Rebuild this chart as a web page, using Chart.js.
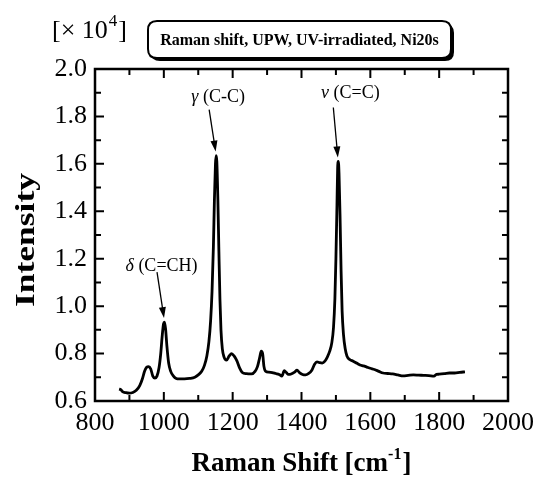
<!DOCTYPE html>
<html>
<head>
<meta charset="utf-8">
<script src="https://cdn.jsdelivr.net/npm/chart.js@4.4.1/dist/chart.umd.min.js"></script>
<style>
html,body{margin:0;padding:0;background:#fff;}
#wrap{width:537px;height:479px;position:relative;}
</style>
</head>
<body>
<div id="wrap"><canvas id="c" width="537" height="479"></canvas></div>
<script>
// ---- data ----
const ramanShift = [870,875,880,890,900,910,920,930,938,944,950,956,962,968,974,980,986,991,995,999,1002,1005,1009,1014,1020,1028,1036,1045,1060,1075,1090,1100,1110,1118,1125,1131,1136,1140,1144,1147,1150,1152,1154,1157,1160,1163,1166,1170,1175,1182,1190,1197,1204,1212,1220,1228,1240,1255,1265,1272,1278,1283,1287,1291,1296,1305,1315,1325,1335,1343,1350,1356,1362,1370,1380,1387,1394,1403,1412,1420,1430,1438,1445,1452,1460,1468,1475,1482,1488,1493,1497,1500,1503,1505,1507,1509,1512,1515,1518,1522,1527,1532,1540,1550,1560,1570,1580,1590,1600,1612,1625,1637,1650,1665,1680,1695,1710,1725,1740,1755,1770,1785,1792,1800,1815,1830,1845,1860,1875];
const intensity = [0.650,0.648,0.640,0.635,0.633,0.636,0.645,0.665,0.695,0.725,0.742,0.745,0.735,0.705,0.697,0.705,0.740,0.800,0.870,0.925,0.933,0.905,0.830,0.760,0.725,0.705,0.695,0.693,0.693,0.695,0.700,0.710,0.725,0.750,0.790,0.850,0.940,1.060,1.250,1.450,1.600,1.635,1.610,1.450,1.230,1.030,0.900,0.820,0.785,0.772,0.790,0.800,0.790,0.770,0.740,0.720,0.715,0.714,0.725,0.745,0.780,0.810,0.800,0.745,0.725,0.722,0.720,0.716,0.712,0.705,0.728,0.720,0.712,0.714,0.722,0.730,0.720,0.712,0.710,0.715,0.730,0.755,0.765,0.762,0.760,0.768,0.785,0.810,0.845,0.910,1.030,1.200,1.420,1.580,1.610,1.560,1.380,1.150,0.980,0.880,0.820,0.790,0.775,0.768,0.760,0.752,0.748,0.743,0.738,0.733,0.725,0.718,0.716,0.714,0.710,0.706,0.708,0.710,0.709,0.708,0.707,0.705,0.712,0.713,0.715,0.718,0.718,0.721,0.723];
const xTickValues = [800,1000,1200,1400,1600,1800,2000];
const xMinorValues = [900,1100,1300,1500,1700,1900];
const yTickValues = [0.6,0.8,1.0,1.2,1.4,1.6,1.8,2.0];
const yMinorValues = [0.7,0.9,1.1,1.3,1.5,1.7,1.9];
const chartTitle = "Raman shift, UPW, UV-irradiated, Ni20s";
const xAxisTitle = "Raman Shift [cm";
const xAxisTitleSup = "-1";
const yAxisTitle = "Intensity";
const scaleNote = "[\u00D7 10";
const scaleNoteSup = "4";
const peakLabels = [
  {greek:"\u03B3", text:" (C-C)", peakX:1152},
  {greek:"\u03BD", text:" (C=C)", peakX:1507},
  {greek:"\u03B4", text:" (C=CH)", peakX:1002}
];

const SERIF = '"Liberation Serif","Times New Roman",serif';
// label placement offsets (px) relative to each peak
const labelOffsets = [
  {tx:2, ty:-58, ax:-7, ay:-46},
  {tx:12, ty:-68, ax:-5, ay:-54},
  {tx:-3, ty:-56, ax:-7.5, ay:-50}
];

function roundRect(ctx,x,y,w,h,r){
  ctx.beginPath();
  ctx.moveTo(x+r,y);
  ctx.lineTo(x+w-r,y);ctx.quadraticCurveTo(x+w,y,x+w,y+r);
  ctx.lineTo(x+w,y+h-r);ctx.quadraticCurveTo(x+w,y+h,x+w-r,y+h);
  ctx.lineTo(x+r,y+h);ctx.quadraticCurveTo(x,y+h,x,y+h-r);
  ctx.lineTo(x,y+r);ctx.quadraticCurveTo(x,y,x+r,y);
  ctx.closePath();
}

const decor = {
  id:'decor',
  afterDraw(chart){
    const ctx = chart.ctx;
    const xs = chart.scales.x, ys = chart.scales.y;
    const a = chart.chartArea;
    ctx.save();
    // frame
    ctx.strokeStyle = '#000';
    ctx.lineWidth = 2.5;
    ctx.strokeRect(a.left, a.top, a.right-a.left, a.bottom-a.top);
    // ticks (inward on all sides)
    ctx.lineWidth = 2;
    ctx.beginPath();
    const majL = 9, minL = 6;
    xTickValues.forEach(v=>{const p=xs.getPixelForValue(v);
      ctx.moveTo(p,a.bottom);ctx.lineTo(p,a.bottom-majL);
      ctx.moveTo(p,a.top);ctx.lineTo(p,a.top+majL);});
    xMinorValues.forEach(v=>{const p=xs.getPixelForValue(v);
      ctx.moveTo(p,a.bottom);ctx.lineTo(p,a.bottom-minL);
      ctx.moveTo(p,a.top);ctx.lineTo(p,a.top+minL);});
    yTickValues.forEach(v=>{const p=ys.getPixelForValue(v);
      ctx.moveTo(a.left,p);ctx.lineTo(a.left+majL,p);
      ctx.moveTo(a.right,p);ctx.lineTo(a.right-majL,p);});
    yMinorValues.forEach(v=>{const p=ys.getPixelForValue(v);
      ctx.moveTo(a.left,p);ctx.lineTo(a.left+minL,p);
      ctx.moveTo(a.right,p);ctx.lineTo(a.right-minL,p);});
    ctx.stroke();

    // x axis title with superscript
    ctx.fillStyle='#000';
    ctx.textBaseline='alphabetic';
    ctx.textAlign='left';
    const fT = 'bold 27px '+SERIF, fS = 'bold 16px '+SERIF;
    ctx.font=fT; const w1 = ctx.measureText(xAxisTitle).width;
    ctx.font=fS; const w2 = ctx.measureText(xAxisTitleSup).width;
    ctx.font=fT; const w3 = ctx.measureText(']').width;
    const tw = w1+w2+w3+1;
    let x0 = (a.left+a.right)/2 - tw/2;
    const by = 471;
    ctx.font=fT; ctx.fillText(xAxisTitle,x0,by);
    ctx.font=fS; ctx.fillText(xAxisTitleSup,x0+w1,by-12);
    ctx.font=fT; ctx.fillText(']',x0+w1+w2+1,by);

    // y axis title
    ctx.save();
    ctx.translate(34, (a.top+a.bottom)/2+5);
    ctx.rotate(-Math.PI/2);
    ctx.font='bold 28px '+SERIF;
    const yw = ctx.measureText(yAxisTitle).width;
    ctx.scale(134/yw,1);
    ctx.textAlign='center';
    ctx.fillText(yAxisTitle,0,0);
    ctx.restore();

    // scale note [x 10^4]
    ctx.font='26px '+SERIF;
    ctx.textAlign='left';
    const nw = ctx.measureText(scaleNote).width;
    ctx.fillText(scaleNote,52,38);
    ctx.font='17px '+SERIF;
    ctx.fillText(scaleNoteSup,52+nw+1,26);
    const sw = ctx.measureText(scaleNoteSup).width;
    ctx.font='26px '+SERIF;
    ctx.fillText(']',52+nw+sw+2,38);

    // title box with shadow
    const bx=148, bY=21, bw=303, bh=37;
    ctx.fillStyle='#000';
    roundRect(ctx,bx+3,bY+3,bw,bh,9); ctx.fill();
    ctx.fillStyle='#fff';
    roundRect(ctx,bx,bY,bw,bh,9); ctx.fill();
    ctx.lineWidth=2; ctx.strokeStyle='#000';
    roundRect(ctx,bx,bY,bw,bh,9); ctx.stroke();
    ctx.fillStyle='#000';
    ctx.font='bold 16px '+SERIF;
    ctx.textAlign='center';
    ctx.textBaseline='middle';
    ctx.fillText(chartTitle,bx+bw/2,bY+bh/2+1);

    // peak labels with arrows
    const meta = chart.getDatasetMeta(0);
    peakLabels.forEach((pl,i)=>{
      const idx = ramanShift.indexOf(pl.peakX);
      const pt = meta.data[idx];
      const px = pt.x, py = pt.y;
      const off = labelOffsets[i];
      ctx.font='italic 18px '+SERIF;
      const gw = ctx.measureText(pl.greek).width;
      ctx.font='18px '+SERIF;
      const rw = ctx.measureText(pl.text).width;
      const lx = px+off.tx-(gw+rw)/2, ly = py+off.ty;
      ctx.textAlign='left'; ctx.textBaseline='middle';
      ctx.font='italic 18px '+SERIF; ctx.fillText(pl.greek,lx,ly);
      ctx.font='18px '+SERIF; ctx.fillText(pl.text,lx+gw,ly);
      // arrow
      const sx = px+off.ax, sy = py+off.ay, ex = px-0.5, ey = py-4;
      const ang = Math.atan2(ey-sy, ex-sx);
      ctx.lineWidth=1.3;
      ctx.beginPath(); ctx.moveTo(sx,sy);
      ctx.lineTo(ex-8*Math.cos(ang), ey-8*Math.sin(ang)); ctx.stroke();
      ctx.beginPath();
      ctx.moveTo(ex,ey);
      ctx.lineTo(ex-11*Math.cos(ang)+3.5*Math.sin(ang), ey-11*Math.sin(ang)-3.5*Math.cos(ang));
      ctx.lineTo(ex-11*Math.cos(ang)-3.5*Math.sin(ang), ey-11*Math.sin(ang)+3.5*Math.cos(ang));
      ctx.closePath(); ctx.fill();
    });
    ctx.restore();
  }
};

const points = ramanShift.map((x,i)=>({x:x,y:intensity[i]}));

new Chart(document.getElementById('c'),{
  type:'line',
  data:{datasets:[{data:points,borderColor:'#000',borderWidth:2.8,pointRadius:0,
    cubicInterpolationMode:'monotone',fill:false}]},
  options:{
    responsive:false,animation:false,
    layout:{padding:{top:69,right:29,left:0,bottom:0}},
    plugins:{legend:{display:false},tooltip:{enabled:false},title:{display:false}},
    scales:{
      x:{type:'linear',min:800,max:2000,
        afterBuildTicks:(s)=>{s.ticks=xTickValues.map(v=>({value:v}));},
        afterFit:(s)=>{s.height=78;s.paddingRight=0;s.paddingLeft=0;},
        grid:{display:false,drawTicks:false},border:{display:false},
        ticks:{padding:7,maxRotation:0,autoSkip:false,color:'#000',font:{family:SERIF,size:26},
          callback:(v)=>String(v)}},
      y:{type:'linear',min:0.6,max:2.0,
        afterBuildTicks:(s)=>{s.ticks=yTickValues.map(v=>({value:v}));},
        afterFit:(s)=>{s.width=95;s.paddingTop=0;s.paddingBottom=0;},
        grid:{display:false,drawTicks:false},border:{display:false},
        ticks:{padding:8,color:'#000',font:{family:SERIF,size:26},callback:(v)=>Number(v).toFixed(1)}}
    }
  },
  plugins:[decor]
});
</script>
</body>
</html>
